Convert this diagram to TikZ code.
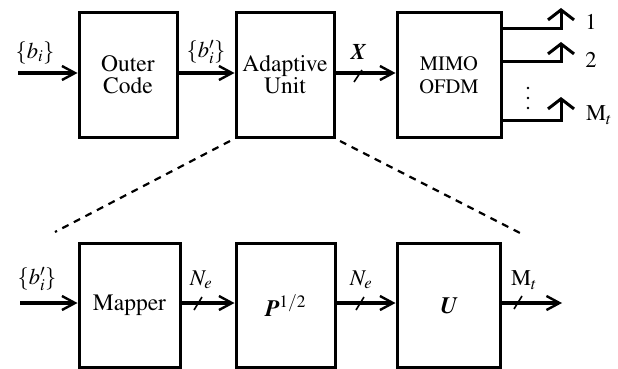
\documentclass[tikz,border=0pt]{standalone}
\usepackage[T1]{fontenc}
\usepackage{mathptmx}
\usetikzlibrary{arrows.meta}
\begin{document}
\begin{tikzpicture}[x=1pt,y=-1pt,
  blk/.style={draw, line width=3pt, minimum height=124pt, inner sep=0pt, align=center,
    font=\fontsize{23.5}{22}\selectfont},
  arr/.style={line width=3.2pt, -{Straight Barb[length=13pt,width=14pt,line width=2.4pt]}},
  ant/.style={line width=3pt, -{Straight Barb[length=10pt,width=26pt,line width=3pt]}},
  lbl/.style={inner sep=0pt, font=\fontsize{22.5}{24}\selectfont},
  slash/.style={line width=1.6pt},
  dot/.style={fill, inner sep=0pt, minimum size=2.6pt, circle},
  dsh/.style={line width=2.2pt, dash pattern=on 7pt off 6pt}]
\useasboundingbox (0,0) rectangle (618,369);
% top row
\node[blk, minimum width=98pt]  (oc) at (128,75)  {Outer\\Code};
\node[blk, minimum width=98pt]  (au) at (285,75)  {Adaptive\\Unit};
\node[blk, minimum width=104pt, font=\fontsize{20.5}{23}\selectfont] (mo) at (449,75) {MIMO\\OFDM};
% bottom row
\node[blk, minimum width=101pt] (mp) at (129.5,305.5) {Mapper};
\node[blk, minimum width=99pt]  (pp) at (285.5,305.5) {$\mbox{\bfseries\itshape P}^{1/2}$};
\node[blk, minimum width=103pt] (uu) at (448.5,305.5) {\bfseries\itshape U};
% top connectors
\coordinate (tin) at (18,73);
\coordinate (tm) at (0,73);
\draw[arr] (tin) -- (tin -| oc.west);
\draw[arr] (oc.east |- tm) -- (au.west |- tm);
\draw[arr] (au.east |- tm) -- (mo.west |- tm);
\node[lbl] (lb1) at (35,53) {$\{b_i\}$};
\node[lbl] (lb2) at (206,52) {$\{b'_i\}$};
\node[lbl] (lx) at (358,52) {\bfseries\itshape X};
\draw[slash] (354,82) -- (362,70);
% antennas
\coordinate (a1) at (561,29);
\coordinate (a2) at (561,62);
\coordinate (a3) at (561,120);
\draw[ant] (a1 -| mo.east) -- (a1) -- ++(0,-21);
\draw[ant] (a2 -| mo.east) -- (a2) -- ++(0,-20);
\draw[ant] (a3 -| mo.east) -- (a3) -- ++(0,-23);
\node[lbl] (n1) at (591,22) {1};
\node[lbl] (n2) at (591,60) {2};
\node[lbl] (n3) at (599,115) {$\mathrm{M}_t$};
\node[dot] (d1) at (528,88) {};
\node[dot] (d2) at (528,98) {};
\node[dot] (d3) at (528,108) {};
% dashed zoom lines
\coordinate (dl1) at (230,141);
\coordinate (dl2) at (55,232);
\coordinate (dr1) at (340,141);
\coordinate (dr2) at (520,233);
\draw[dsh] (dl1) -- (dl2);
\draw[dsh] (dr1) -- (dr2);
% bottom connectors
\coordinate (bin) at (20,303);
\coordinate (bm) at (0,303);
\coordinate (bout) at (562,303);
\draw[arr] (bin) -- (bin -| mp.west);
\draw[arr] (mp.east |- bm) -- (pp.west |- bm);
\draw[arr] (pp.east |- bm) -- (uu.west |- bm);
\draw[arr] (uu.east |- bm) -- (bout);
\node[lbl] (lb3) at (37,279) {$\{b'_i\}$};
\node[lbl] (ne1) at (201,280) {$N_e$};
\node[lbl] (ne2) at (361,280) {$N_e$};
\node[lbl] (mt) at (524,280) {$\mathrm{M}_t$};
\draw[slash] (194,310) -- (202,297);
\draw[slash] (356,310) -- (364,297);
\draw[slash] (514,309) -- (522,296);
\end{tikzpicture}
\end{document}
